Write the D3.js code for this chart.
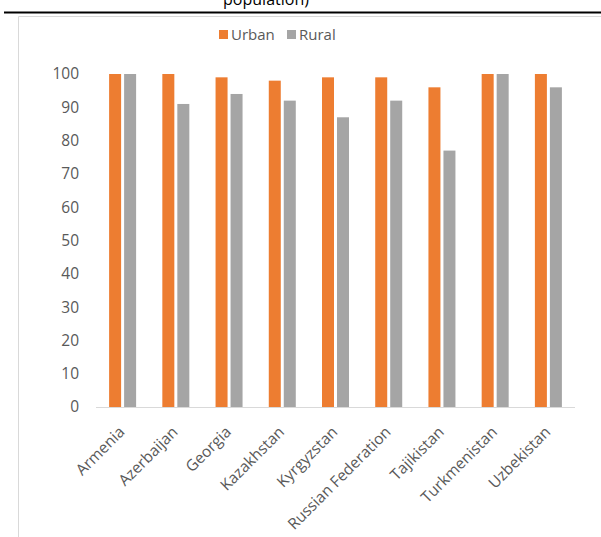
<!DOCTYPE html>
<html>
<head>
<meta charset="utf-8">
<script src="https://cdn.jsdelivr.net/npm/d3@7"></script>
<style>
  html, body { margin: 0; padding: 0; background: #fff; }
  svg { display: block; }
  text { font-family: "Open Sans", sans-serif; }
</style>
</head>
<body>
<svg id="chart" width="601" height="537"></svg>
<script>
// Share of population with access (%), by country and area
const countries = ["Armenia", "Azerbaijan", "Georgia", "Kazakhstan", "Kyrgyzstan",
                   "Russian Federation", "Tajikistan", "Turkmenistan", "Uzbekistan"];
const urban = [100, 100, 99, 98, 99, 99, 96, 100, 100];
const rural = [100, 91, 94, 92, 87, 92, 77, 100, 96];
const seriesNames = ["Urban", "Rural"];
const seriesColors = ["#ED7D31", "#A5A5A5"];
const yTicks = [0, 10, 20, 30, 40, 50, 60, 70, 80, 90, 100];

const svg = d3.select("#chart");
const W = 601, H = 537;
const FONT = "'Open Sans', sans-serif";

// Title line (its upper part falls outside the frame) and separator rule
svg.append("text")
  .attr("x", 266).attr("y", 5)
  .attr("text-anchor", "middle")
  .attr("font-size", 16)
  .attr("fill", "#000")
  .text("population)");
svg.append("line")
  .attr("x1", 4).attr("x2", W)
  .attr("y1", 12.5).attr("y2", 12.5)
  .attr("stroke", "#000").attr("stroke-width", 2);

// Chart frame
svg.append("path")
  .attr("d", `M18.5,${H} V16.5 H${W}`)
  .attr("fill", "none").attr("stroke", "#d9d9d9").attr("stroke-width", 1);

const plot = { left: 96, right: 575, top: 74, bottom: 407 };

const x = d3.scaleBand()
  .domain(countries)
  .range([plot.left, plot.right])
  .paddingInner(0).paddingOuter(0);

const y = d3.scaleLinear()
  .domain([0, 100])
  .range([plot.bottom, plot.top]);

const barW = 12, barGap = 3;
const xSub = d3.scaleBand().domain(seriesNames)
  .range([-(barW + barGap / 2), barW + barGap / 2]).paddingInner(barGap / (barW + barGap));

const rows = countries.map((c, i) => ({ country: c, values: [urban[i], rural[i]] }));

// Bars
const groups = svg.append("g").selectAll("g").data(rows).join("g")
  .attr("transform", d => `translate(${x(d.country) + x.bandwidth() / 2},0)`);
groups.selectAll("rect")
  .data(d => d.values.map((v, k) => ({ key: seriesNames[k], value: v, color: seriesColors[k] })))
  .join("rect")
  .attr("x", d => xSub(d.key))
  .attr("width", xSub.bandwidth())
  .attr("y", d => y(d.value))
  .attr("height", d => y(0) - y(d.value))
  .attr("fill", d => d.color);

// Category axis baseline
svg.append("line")
  .attr("x1", plot.left).attr("x2", plot.right)
  .attr("y1", plot.bottom + 0.5).attr("y2", plot.bottom + 0.5)
  .attr("stroke", "#d9d9d9").attr("stroke-width", 1);

// Value axis labels
const yAxis = d3.axisLeft(y).tickValues(yTicks).tickSize(0).tickPadding(0);
const yg = svg.append("g").attr("transform", `translate(79,0)`).call(yAxis);
yg.select(".domain").remove();
yg.selectAll("text")
  .attr("font-family", FONT)
  .attr("font-size", 15.5).attr("fill", "#595959");

// Category labels, rotated
const xAxis = d3.axisBottom(x).tickSize(0).tickPadding(0);
const xg = svg.append("g").attr("transform", `translate(0,${plot.bottom})`).call(xAxis);
xg.select(".domain").remove();
xg.selectAll("text")
  .attr("font-family", FONT)
  .attr("font-size", 15.5).attr("fill", "#595959")
  .attr("text-anchor", "end")
  .attr("dy", 0)
  .attr("transform", "translate(3,26) rotate(-45)");

// Legend
const legend = svg.append("g").attr("transform", "translate(219,30)");
const legendX = [0, 68];
seriesNames.forEach((name, i) => {
  const g = legend.append("g").attr("transform", `translate(${legendX[i]},0)`);
  g.append("rect").attr("width", 9).attr("height", 9).attr("fill", seriesColors[i]);
  g.append("text").attr("x", 12).attr("y", 10)
    .attr("font-family", FONT)
    .attr("font-size", 15).attr("fill", "#595959").text(name);
});
</script>
</body>
</html>
